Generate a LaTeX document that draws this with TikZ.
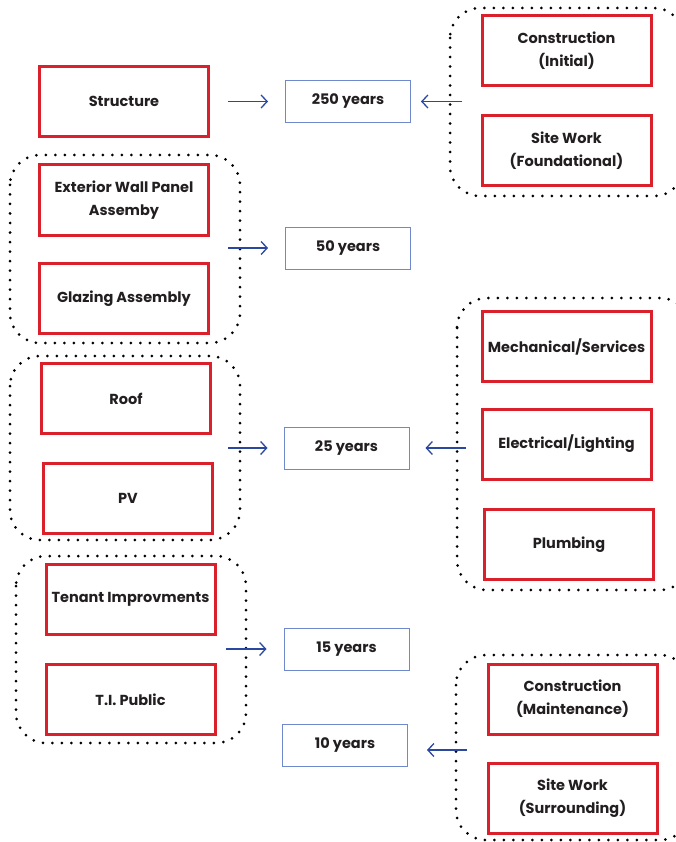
\documentclass[tikz,border=0pt]{standalone}
\usepackage{fontspec}
\setmainfont{Poppins}[BoldFont={Poppins Bold}]
\usetikzlibrary{arrows.meta}
\definecolor{boxred}{RGB}{218,32,42}
\definecolor{yearblue}{RGB}{112,136,204}
\definecolor{arrowblue}{RGB}{42,72,158}
\definecolor{inkgray}{RGB}{35,31,32}
\tikzset{
  part/.style={draw=boxred, line width=3pt, minimum width=169pt, minimum height=70pt,
    align=center, text=inkgray, font=\bfseries\fontsize{14.5}{23}\selectfont},
  years/.style={draw=yearblue, line width=1pt, minimum width=125pt, minimum height=42pt,
    text=inkgray, font=\bfseries\fontsize{14.5}{23}\selectfont},
  group/.style={draw=black, line width=3pt, dash pattern=on 0pt off 9.5pt,
    line cap=round, rounded corners=30pt},
  link/.style={draw=arrowblue, line width=1.3pt, ->},
  >={Straight Barb[length=6pt,width=13pt]},
}
\begin{document}
\begin{tikzpicture}[x=1pt,y=-1pt]
  \clip (0,0) rectangle (676,842);
  % dotted groups
  \draw[group] (450,8) rectangle (684,196);
  \draw[group] (10,155) rectangle (240,343);
  \draw[group] (10,356) rectangle (240,540);
  \draw[group] (457,298) rectangle (690,590);
  \draw[group] (16,556) rectangle (246,743);
  \draw[group] (456,655) rectangle (690,840);

  % building parts
  \node[part] (struct) at (124,101.5) {Structure};
  \node[part] (cinit) at (566.5,51) {Construction\\(Initial)};
  \node[part] (sfound) at (566.5,150.5) {Site Work\\(Foundational)};
  \node[part] (wall) at (124,200) {Exterior Wall Panel\\Assemby};
  \node[part] (glaze) at (124,298.5) {Glazing Assembly};
  \node[part] (roof) at (126,398.5) {Roof};
  \node[part] (pv) at (128,498.5) {PV};
  \node[part] (mech) at (566.5,346.5) {Mechanical/Services};
  \node[part] (elec) at (566.5,444) {Electrical/Lighting};
  \node[part] (plumb) at (569,544.5) {Plumbing};
  \node[part] (tenant) at (130.5,599.5) {Tenant Improvments};
  \node[part] (tipub) at (130.5,699.5) {T.I. Public};
  \node[part] (cmaint) at (572.5,699) {Construction\\(Maintenance)};
  \node[part] (ssurr) at (572.5,798) {Site Work\\(Surrounding)};

  % lifespans
  \node[years] (y250) at (348,101.5) {250 years};
  \node[years] (y50) at (348,248) {50 years};
  \node[years] (y25) at (346.5,448) {25 years};
  \node[years] (y15) at (346.5,649) {15 years};
  \node[years] (y10) at (345,745) {10 years};

  % arrow tails
  \coordinate (a250l) at (228,101.5);
  \coordinate (a250r) at (462,101.5);
  \coordinate (a50) at (228,248);
  \coordinate (a25l) at (228,448);
  \coordinate (a25r) at (466,448);
  \coordinate (a15) at (226,649);
  \coordinate (a10) at (467,750);

  \draw[link, shorten >=17pt] (a250l) -- (a250l -| y250.west);
  \draw[link, shorten >=10pt] (a250r) -- (a250r -| y250.east);
  \draw[link, shorten >=17pt] (a50) -- (a50 -| y50.west);
  \draw[link, shorten >=16pt] (a25l) -- (a25l -| y25.west);
  \draw[link, shorten >=16pt] (a25r) -- (a25r -| y25.east);
  \draw[link, shorten >=17pt] (a15) -- (a15 -| y15.west);
  \draw[link, shorten >=19pt] (a10) -- (a10 -| y10.east);
\end{tikzpicture}
\end{document}
